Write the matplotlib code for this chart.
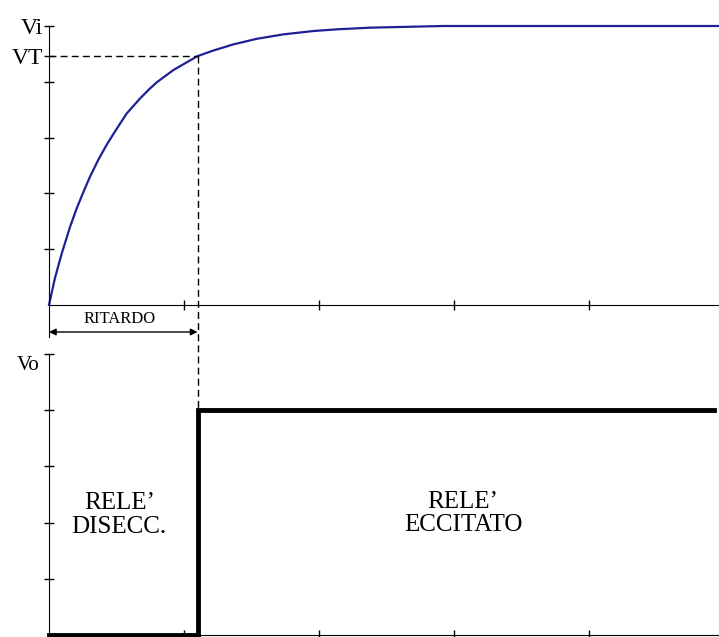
import matplotlib
matplotlib.use("Agg")
import matplotlib.pyplot as plt

plt.rcParams['font.family'] = ['Liberation Serif', 'DejaVu Serif']

# tensione d'ingresso (carica del condensatore)
t_in = [0.0, 0.044, 0.094, 0.156, 0.205, 0.254, 0.304, 0.365, 0.427, 0.489,
        0.575, 0.674, 0.748, 0.798, 0.921, 1.10, 1.217, 1.365, 1.538, 1.736,
        1.958, 2.131, 2.378, 2.919, 4.963]
v_in = [0.0, 0.48, 0.92, 1.40, 1.73, 2.02, 2.30, 2.60, 2.87, 3.11,
        3.43, 3.70, 3.88, 3.99, 4.21, 4.46, 4.56, 4.67, 4.77, 4.85,
        4.91, 4.94, 4.97, 5.0, 5.0]

# uscita del rele'
t_out = [0.0, 1.1, 1.1, 4.926]
v_out = [0.0, 0.0, 4.0, 4.0]

t_delay = 1.1
vt = 4.46
vi = 5.0
x_ticks = [1, 2, 3, 4]
y_ticks = [1, 2, 3, 4, 5]

W, H = 719, 637
fig = plt.figure(figsize=(W / 100, H / 100), dpi=100)

ax1 = fig.add_axes([49 / W, (H - 338.4) / H, 670 / W, 312.4 / H])
ax2 = fig.add_axes([49 / W, 2 / H, 670 / W, 281 / H])

for ax in (ax1, ax2):
    ax.set_xlim(0, 670 / 135)
    ax.spines['top'].set_visible(False)
    ax.spines['right'].set_visible(False)
    ax.patch.set_alpha(0)
    ax.tick_params(direction='inout', length=7, width=1, colors='black')
    ax.set_xticks(x_ticks)
    ax.set_xticklabels([])

# grafico superiore
ax1.set_ylim(-0.6, 5)
ax1.spines['bottom'].set_position(('data', 0))
ax1.spines['left'].set_bounds(-0.57, 5)
ax1.set_yticks(y_ticks[:4] + [vt, vi])
ax1.set_yticklabels([''] * 4 + ['VT', 'Vi'], fontsize=17)
ax1.tick_params(axis='y', pad=1)

ax1.plot(t_in, v_in, color='#1f1f96', lw=1.6, clip_on=False)
ax1.plot([0, t_delay], [vt, vt], color='black', lw=1, dashes=(5, 3))
ax1.plot([t_delay, t_delay], [vt, -1.87], color='black', lw=1, dashes=(5, 3),
         clip_on=False)

ax1.annotate('', xy=(t_delay, -0.485), xytext=(0, -0.485),
             arrowprops=dict(arrowstyle='<|-|>', color='black', lw=1,
                             shrinkA=0, shrinkB=0, mutation_scale=10),
             annotation_clip=False)
ax1.text(t_delay / 2 - 0.03, -0.26, 'RITARDO', fontsize=12,
         ha='center', va='center')

# grafico inferiore
ax2.set_ylim(0, 5)
ax2.spines['left'].set_bounds(0, 5)
ax2.set_yticks(y_ticks)
ax2.set_yticklabels([])
ax2.plot(t_out, v_out, color='black', lw=3.5, clip_on=False,
         solid_joinstyle='miter')
ax2.text(-0.07, 4.8, 'Vo', fontsize=15, ha='right', va='center')

ax2.text(0.52, 2.13, 'RELE’\nDISECC.', fontsize=18, ha='center',
         va='center', linespacing=1.1)
ax2.text(3.067, 2.16, 'RELE’\nECCITATO', fontsize=18, ha='center',
         va='center', linespacing=1.1)

fig.savefig('out.png', dpi=100)
